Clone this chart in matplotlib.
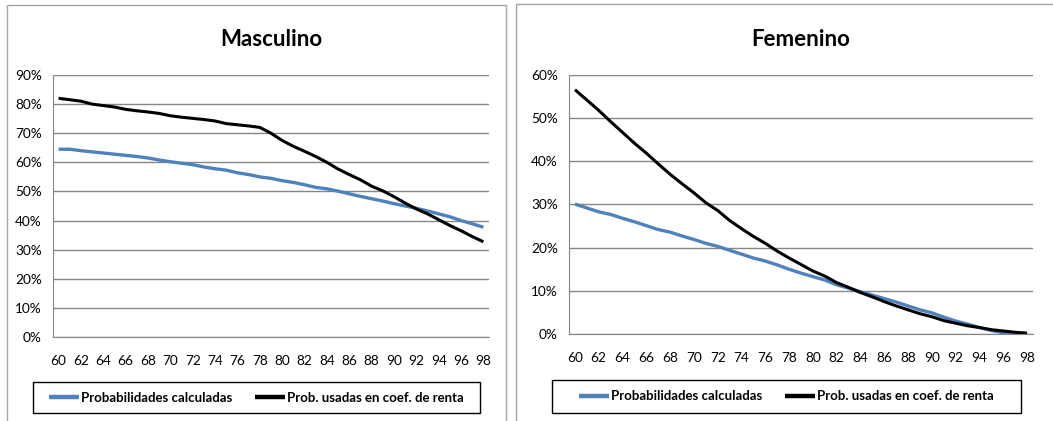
import numpy as np
import matplotlib
matplotlib.use("Agg")
import matplotlib.pyplot as plt
from matplotlib.patches import Rectangle
from matplotlib.ticker import FuncFormatter

plt.rcParams['font.family'] = ['Lato', 'DejaVu Sans']

# Ages on the category axis
ages = list(range(60, 99))
tick_labels = [str(a) for a in ages[::2]]

# Masculino (%)
masc_calc = [64.5, 64.5, 64.0, 63.6, 63.2, 62.8, 62.4, 62.0, 61.5, 60.8,
             60.2, 59.7, 59.2, 58.4, 57.8, 57.3, 56.4, 55.8, 55.0, 54.5,
             53.7, 53.1, 52.3, 51.4, 50.9, 50.1, 49.2, 48.3, 47.5, 46.7,
             45.8, 45.0, 44.2, 43.3, 42.3, 41.3, 40.0, 38.9, 37.7]
masc_coef = [82.0, 81.5, 81.0, 80.0, 79.5, 79.0, 78.2, 77.7, 77.3, 76.8,
             76.0, 75.5, 75.1, 74.7, 74.2, 73.3, 72.9, 72.5, 72.0, 70.0,
             67.5, 65.5, 63.8, 62.0, 60.0, 57.7, 55.8, 54.0, 51.8, 50.2,
             48.2, 46.0, 44.0, 42.3, 40.3, 38.3, 36.5, 34.5, 32.7]

# Femenino (%)
fem_calc = [30.1, 29.2, 28.3, 27.7, 26.8, 26.0, 25.1, 24.2, 23.6, 22.7,
            21.9, 21.0, 20.3, 19.4, 18.5, 17.6, 16.9, 16.0, 15.0, 14.1,
            13.3, 12.5, 11.4, 10.6, 9.8, 9.0, 8.2, 7.4, 6.5, 5.6,
            4.9, 3.9, 3.0, 2.3, 1.5, 0.8, 0.3, 0.1, 0.0]
fem_coef = [56.6, 54.2, 51.8, 49.2, 46.7, 44.2, 41.9, 39.4, 37.0, 34.8,
            32.7, 30.4, 28.6, 26.3, 24.4, 22.6, 21.0, 19.2, 17.6, 16.1,
            14.6, 13.4, 11.9, 10.8, 9.6, 8.6, 7.5, 6.5, 5.6, 4.7,
            4.0, 3.1, 2.5, 1.9, 1.5, 1.0, 0.7, 0.4, 0.2]

label_calc = 'Probabilidades calculadas'
label_coef = 'Prob. usadas en coef. de renta'

BLUE = '#4F81BD'
GRID = '#868686'

W, H = 1053, 421
fig = plt.figure(figsize=(W / 100, H / 100), dpi=100)


def px_axes(x0, y0, x1, y1):
    return fig.add_axes([x0 / W, 1 - y1 / H, (x1 - x0) / W, (y1 - y0) / H])


def px_rect(x0, y0, x1, y1, color):
    fig.patches.append(Rectangle((x0 / W, 1 - y1 / H), (x1 - x0) / W, (y1 - y0) / H,
                                 transform=fig.transFigure, fill=False,
                                 edgecolor=color, linewidth=1.0))


def panel(rect, box, title, calc, coef, ymax, legend_box):
    # chart area border
    px_rect(*box, '#A6A6A6')
    ax = px_axes(*rect)
    x = np.arange(len(ages))
    ax.plot(x, calc, color=BLUE, linewidth=2.4, label=label_calc, solid_capstyle='butt')
    ax.plot(x, coef, color='black', linewidth=2.2, label=label_coef, solid_capstyle='butt')
    ax.set_xlim(-0.5, len(ages) - 0.5)
    ax.set_ylim(0, ymax)
    ax.set_yticks(np.arange(0, ymax + 1, 10))
    ax.yaxis.set_major_formatter(FuncFormatter(lambda v, p: f"{v:.0f}%"))
    ax.set_xticks(x[::2])
    ax.set_xticklabels(tick_labels)
    ax.tick_params(axis='both', length=0, labelsize=9.8, colors='black')
    ax.tick_params(axis='x', pad=13)
    ax.tick_params(axis='y', pad=8)
    ax.yaxis.grid(True, color=GRID, linewidth=1.0)
    ax.set_axisbelow(True)
    for s in ['top', 'right']:
        ax.spines[s].set_visible(False)
    for s in ['left', 'bottom']:
        ax.spines[s].set_color(GRID)
    ax.set_title(title, fontsize=16, fontweight='bold', pad=21)

    # legend frame drawn separately, entries centred inside it
    lx0, ly0, lx1, ly1 = legend_box
    px_rect(lx0, ly0, lx1, ly1, 'black')
    leg = fig.legend(*ax.get_legend_handles_labels(), ncol=2, loc='center',
                     bbox_to_anchor=((lx0 + lx1) / 2 / W, 1 - (ly0 + ly1) / 2 / H),
                     frameon=False, prop={'size': 9.5, 'weight': 'bold'},
                     handlelength=2.3, handletextpad=0.15, columnspacing=1.7,
                     borderaxespad=0, borderpad=0)
    for h in leg.get_lines():
        h.set_linewidth(3.2)
    return ax


panel((53, 75, 489, 337), (7, 5, 506, 430), 'Masculino', masc_calc, masc_coef, 90,
      (33, 382, 480, 413))
panel((569, 75, 1033, 334), (516, 4, 1060, 430), 'Femenino', fem_calc, fem_coef, 60,
      (552, 380, 1021, 413))

fig.savefig('out.png', dpi=100)
